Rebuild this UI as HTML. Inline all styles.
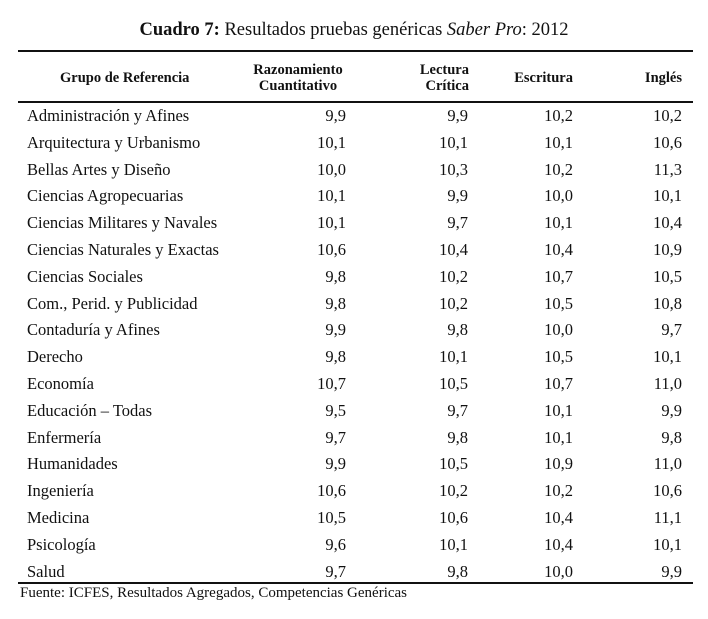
<!DOCTYPE html>
<html><head><meta charset="utf-8"><style>
body{margin:0;background:#fff;width:708px;height:619px;position:relative;overflow:hidden;font-family:"Liberation Serif",serif;color:#111}
.a{position:absolute;white-space:nowrap}
.r{text-align:right}
.rule{position:absolute;left:18px;width:675px;background:#111}
.h{font-weight:bold;font-size:14.5px;line-height:16px}
.row{position:absolute;left:0;width:708px;height:20px;font-size:16.5px}
.row span{position:absolute;top:0}
</style></head><body>
<div class="a" style="left:0;width:708px;text-align:center;top:20px;font-size:18.5px"><b>Cuadro 7:</b> Resultados pruebas genéricas <i>Saber Pro</i>: 2012</div>
<div class="rule" style="top:50px;height:1.5px"></div>
<div class="a h" style="left:60px;top:70px">Grupo de Referencia</div>
<div class="a h" style="left:248px;top:62px;text-align:center;width:100px">Razonamiento<br>Cuantitativo</div>
<div class="a h r" style="right:239px;top:62px">Lectura<br>Crítica</div>
<div class="a h r" style="right:135px;top:70px">Escritura</div>
<div class="a h r" style="right:26px;top:70px">Inglés</div>
<div class="rule" style="top:101px;height:1.5px"></div>
<div id="rows"></div>
<div class="rule" style="top:582px;height:1.5px"></div>
<div class="a" style="left:20px;top:585px;font-size:15px">Fuente: ICFES, Resultados Agregados, Competencias Genéricas</div>
<script>
var d=[["Administración y Afines","9,9","9,9","10,2","10,2"],["Arquitectura y Urbanismo","10,1","10,1","10,1","10,6"],["Bellas Artes y Diseño","10,0","10,3","10,2","11,3"],["Ciencias Agropecuarias","10,1","9,9","10,0","10,1"],["Ciencias Militares y Navales","10,1","9,7","10,1","10,4"],["Ciencias Naturales y Exactas","10,6","10,4","10,4","10,9"],["Ciencias Sociales","9,8","10,2","10,7","10,5"],["Com., Perid. y Publicidad","9,8","10,2","10,5","10,8"],["Contaduría y Afines","9,9","9,8","10,0","9,7"],["Derecho","9,8","10,1","10,5","10,1"],["Economía","10,7","10,5","10,7","11,0"],["Educación – Todas","9,5","9,7","10,1","9,9"],["Enfermería","9,7","9,8","10,1","9,8"],["Humanidades","9,9","10,5","10,9","11,0"],["Ingeniería","10,6","10,2","10,2","10,6"],["Medicina","10,5","10,6","10,4","11,1"],["Psicología","9,6","10,1","10,4","10,1"],["Salud","9,7","9,8","10,0","9,9"]];
var rt=[362,240,135,26],h="";
d.forEach(function(r,i){var t=106+i*26.8;h+='<div class="row" style="top:'+t+'px"><span style="left:27px">'+r[0]+'</span>';for(var j=1;j<5;j++)h+='<span style="right:'+rt[j-1]+'px">'+r[j]+'</span>';h+='</div>';});
document.getElementById("rows").innerHTML=h;
</script>
</body></html>
